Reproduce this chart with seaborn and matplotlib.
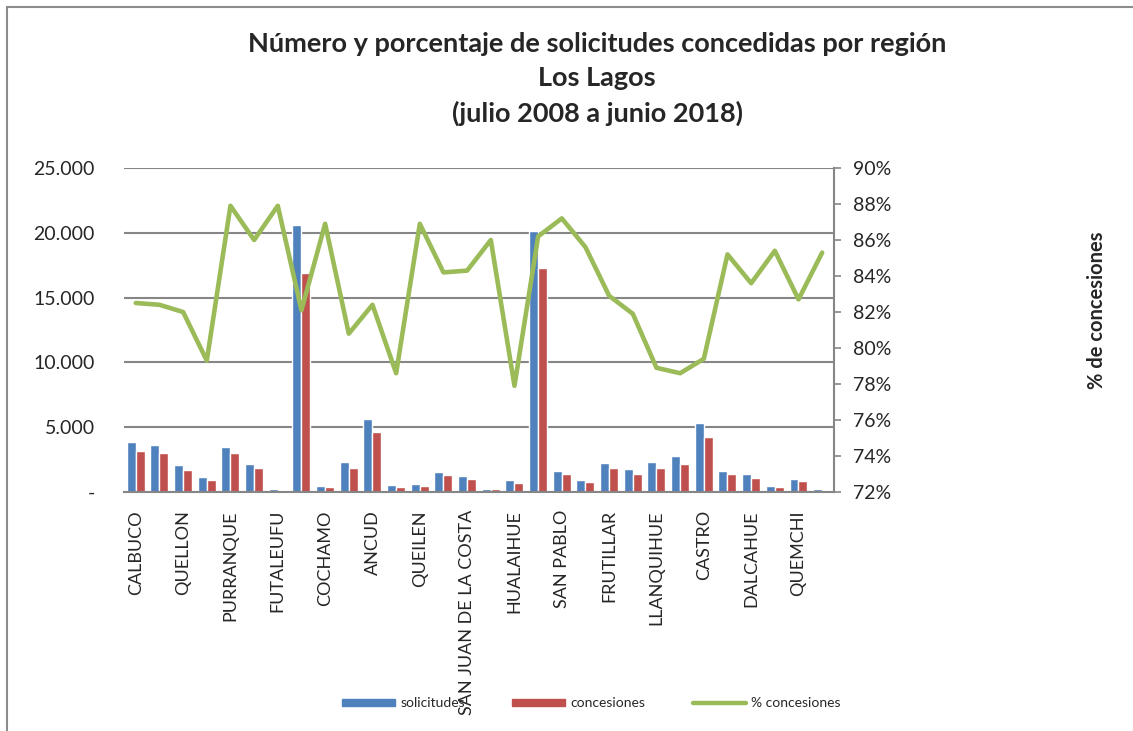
import numpy as np
import pandas as pd
import seaborn as sns
import matplotlib.pyplot as plt
from matplotlib.lines import Line2D
from matplotlib.patches import Patch

# Data (30 comunas, only every other one is labelled)
comunas = ['CALBUCO', 'LOS MUERMOS', 'QUELLON', 'MAULLIN', 'PURRANQUE', 'FRESIA',
           'FUTALEUFU', 'PUERTO MONTT', 'COCHAMO', 'CHONCHI', 'ANCUD', 'PUQUELDON',
           'QUEILEN', 'PUERTO OCTAY', 'SAN JUAN DE LA COSTA', 'CHAITEN', 'HUALAIHUE',
           'OSORNO', 'SAN PABLO', 'CURACO DE VELEZ', 'FRUTILLAR', 'RIO NEGRO',
           'LLANQUIHUE', 'PUYEHUE', 'CASTRO', 'PUERTO VARAS', 'DALCAHUE', 'PALENA',
           'QUEMCHI', 'QUINCHAO']
solicitudes = [3870, 3630, 2110, 1160, 3480, 2170, 230, 20590, 440, 2350, 5670, 570,
               590, 1550, 1260, 260, 950, 20100, 1620, 950, 2270, 1750, 2320, 2760,
               5360, 1650, 1370, 490, 1030, 230]
concesiones = [3200, 2990, 1730, 930, 3040, 1860, 180, 16930, 360, 1860, 4640, 410,
               490, 1290, 1030, 210, 720, 17290, 1390, 800, 1880, 1420, 1830, 2140,
               4280, 1390, 1110, 390, 850, 180]
pct_concesiones = [82.5, 82.4, 82.0, 79.3, 87.9, 86.0, 87.9, 82.1, 86.9, 80.8, 82.4, 78.6,
                   86.9, 84.2, 84.3, 86.0, 77.9, 86.2, 87.2, 85.6, 82.9, 81.9, 78.9, 78.6,
                   79.4, 85.2, 83.6, 85.4, 82.7, 85.3]

left_ticks = [0, 5000, 10000, 15000, 20000, 25000]
left_labels = ['-', '5.000', '10.000', '15.000', '20.000', '25.000']
right_ticks = [72, 74, 76, 78, 80, 82, 84, 86, 88, 90]

colors = {'solicitudes': '#4F81BD', 'concesiones': '#C0504D', '% concesiones': '#9BBB59'}

df = pd.DataFrame({'comuna': comunas, 'solicitudes': solicitudes, 'concesiones': concesiones})
long_df = df.melt(id_vars='comuna', var_name='serie', value_name='valor')

sns.set_style('white')
plt.rcParams['font.family'] = ['Lato', 'DejaVu Sans']

fig = plt.figure(figsize=(11.33, 7.31), dpi=100)
ax = fig.add_axes([0.1094, 0.3269, 0.6267, 0.4433])

sns.barplot(data=long_df, x='comuna', y='valor', hue='serie', order=comunas,
            palette=colors, width=0.76, gap=0.0, saturation=1, ax=ax, legend=False)

ax.set_ylim(0, 25000)
ax.set_yticks(left_ticks)
ax.set_yticklabels(left_labels, fontsize=14)
ax.set_xlim(-0.5, len(comunas) - 0.5)
ax.set_xticks(range(0, len(comunas), 2))
ax.set_xticklabels(comunas[::2], rotation=90, fontsize=13, va='top', ha='center')
ax.tick_params(axis='x', length=0, pad=13)
ax.tick_params(axis='y', length=0, pad=21)
ax.set_xlabel('')
ax.set_ylabel('')
ax.grid(axis='y', color='#868686', linewidth=1.5)
ax.set_axisbelow(True)
for side in ['left', 'right', 'top']:
    ax.spines[side].set_visible(False)
ax.spines['bottom'].set_color('#868686')
ax.spines['bottom'].set_linewidth(1.5)

# Percentage line on the secondary axis
ax2 = ax.twinx()
sns.lineplot(x=np.arange(len(comunas)), y=pct_concesiones, color=colors['% concesiones'],
             linewidth=3.3, ax=ax2)
ax2.set_ylim(72, 90)
ax2.set_yticks(right_ticks)
ax2.set_yticklabels([f'{t}%' for t in right_ticks], fontsize=14)
ax2.tick_params(axis='y', direction='out', length=5, width=1.2, color='#868686', pad=9)
for side in ['left', 'top', 'bottom']:
    ax2.spines[side].set_visible(False)
ax2.spines['right'].set_color('#868686')
ax2.spines['right'].set_linewidth(1.5)
ax2.set_xlim(-0.5, len(comunas) - 0.5)

# Titles
fig.text(0.527, 0.892, 'Número y porcentaje de solicitudes concedidas por región\nLos Lagos\n(julio 2008 a junio 2018)',
         ha='center', va='center', fontsize=19.5, fontweight='bold', linespacing=1.5)
fig.text(0.968, 0.576, '% de concesiones', rotation=90, ha='center', va='center',
         fontsize=14.5, fontweight='bold')

# Legend at the bottom
handles = [Patch(color=colors['solicitudes'], label='solicitudes'),
           Patch(color=colors['concesiones'], label='concesiones'),
           Line2D([0], [0], color=colors['% concesiones'], linewidth=3.2, label='% concesiones')]
fig.legend(handles=handles, loc='center', bbox_to_anchor=(0.522, 0.038), ncol=3,
           frameon=False, fontsize=10, handlelength=3.8, handleheight=0.45,
           handletextpad=0.4, columnspacing=3.4)

# Chart frame (only the top and left edges are visible in the reference)
fig.add_artist(Line2D([0.006, 0.006], [0.0, 0.99], transform=fig.transFigure,
                      color='#8c8c8c', linewidth=1.5))
fig.add_artist(Line2D([0.006, 1.0], [0.99, 0.99], transform=fig.transFigure,
                      color='#8c8c8c', linewidth=1.5))

fig.savefig('out.png', dpi=100)
